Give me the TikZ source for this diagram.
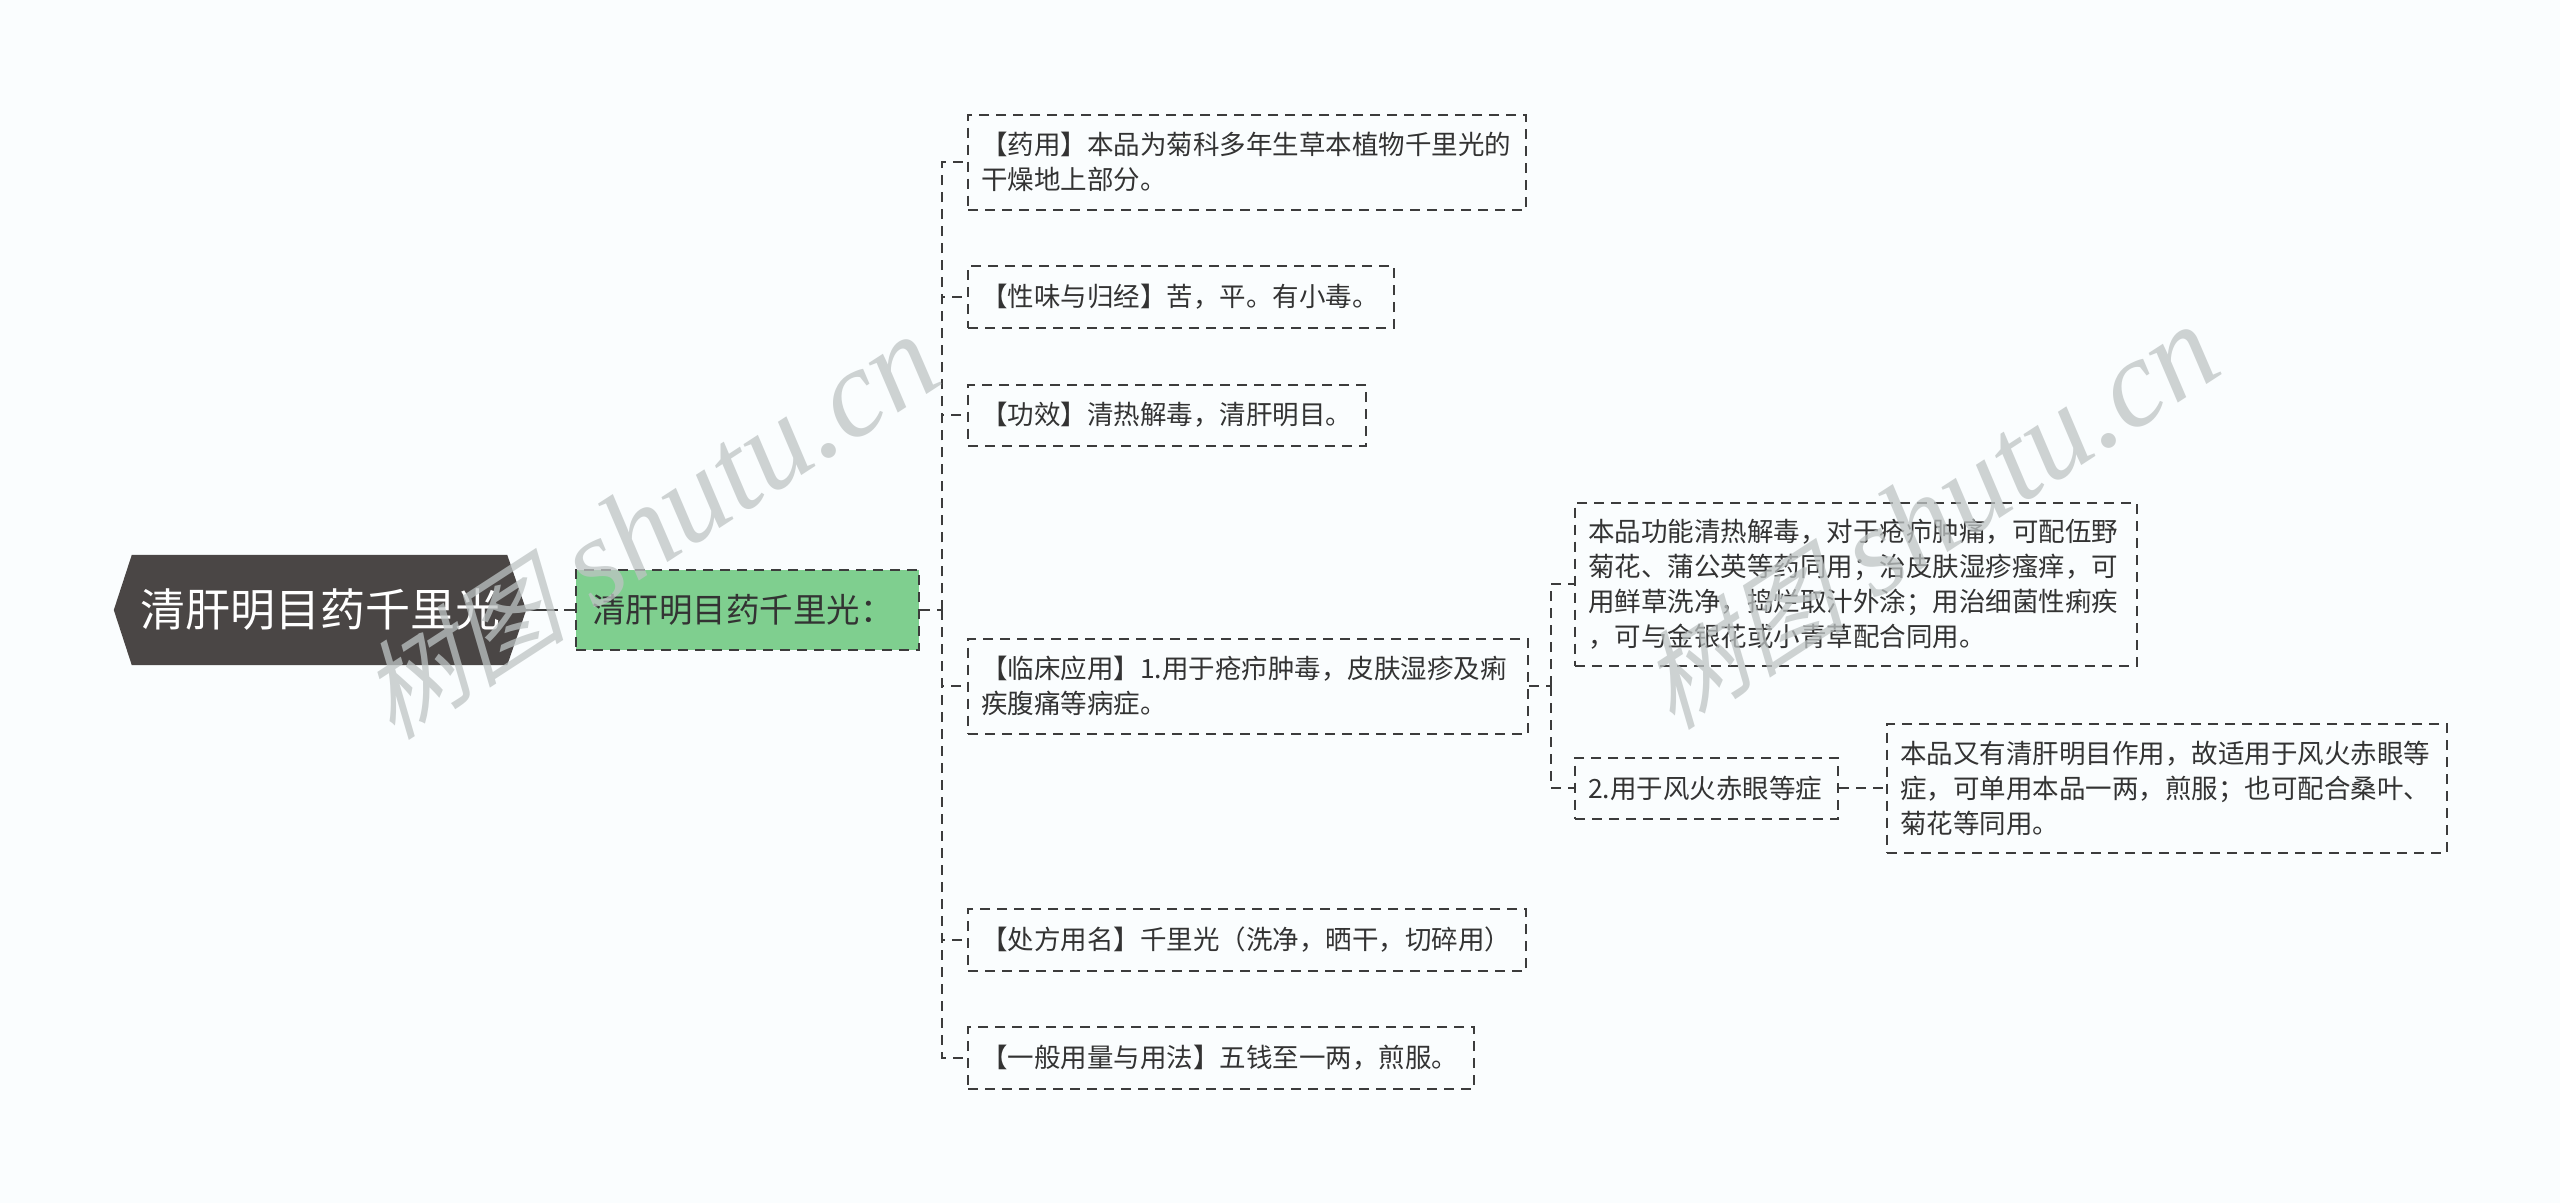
\documentclass[tikz,border=0pt]{standalone}
\usepackage{fontspec}
\setmainfont{Noto Sans CJK SC}
\newfontfamily\wmcjk[FakeSlant=0.3]{Noto Sans CJK SC}
\newfontfamily\wmlat{Liberation Serif}
\definecolor{bgc}{RGB}{250,253,254}
\definecolor{rootc}{RGB}{74,70,69}
\definecolor{greenc}{RGB}{127,207,143}
\definecolor{txtc}{RGB}{51,51,51}
\definecolor{linec}{RGB}{60,60,60}
\definecolor{wmc}{RGB}{190,196,196}
\tikzset{
  conn/.style={draw=linec, line width=2pt, dash pattern=on 10pt off 7pt},
  leaf/.style={draw=linec, line width=2pt, dash pattern=on 10pt off 7pt,
    anchor=west, align=left, inner xsep=13pt, inner ysep=0pt, text=txtc,
    font=\fontsize{26.5}{35}\selectfont},
  wm/.style={text=wmc, opacity=0.75, rotate=33}
}
\begin{document}
\begin{tikzpicture}[x=1pt,y=-1pt]
\fill[bgc] (0,0) rectangle (2560,1203);
\useasboundingbox (0,0) rectangle (2560,1203);

% root
\node[minimum width=412pt, minimum height=110pt, inner sep=0pt] (root) at (320,610) {};
\fill[rootc] (root.west) -- ([xshift=18pt]root.north west) -- ([xshift=-19pt]root.north east)
  -- (root.east) -- ([xshift=-19pt]root.south east) -- ([xshift=18pt]root.south west) -- cycle;
\node[text=white, font=\fontsize{45}{54}\selectfont] (roottxt) at (root.center) {清肝明目药千里光};

% level 1
\node[fill=greenc, draw=linec, line width=2pt, dash pattern=on 10pt off 7pt,
  anchor=west, minimum height=80pt, text width=311pt, inner xsep=16pt, inner ysep=0pt,
  align=left, text=txtc, font=\fontsize{33.5}{40}\selectfont] (green) at (575,610) {清肝明目药千里光：};

% children
\node[leaf, text width=532pt, minimum height=95pt] (c1) at (967,162)
  {【药用】本品为菊科多年生草本植物千里光的\\干燥地上部分。};
\node[leaf, text width=400pt, minimum height=62pt] (c2) at (967,297)
  {【性味与归经】苦，平。有小毒。};
\node[leaf, text width=372pt, minimum height=61pt] (c3) at (967,415)
  {【功效】清热解毒，清肝明目。};
\node[leaf, text width=534pt, minimum height=95pt] (c4) at (967,686)
  {【临床应用】1.用于疮疖肿毒，皮肤湿疹及痢\\疾腹痛等病症。};
\node[leaf, text width=532pt, minimum height=62pt] (c5) at (967,940)
  {【处方用名】千里光（洗净，晒干，切碎用）};
\node[leaf, text width=480pt, minimum height=62pt] (c6) at (967,1058)
  {【一般用量与用法】五钱至一两，煎服。};

% grandchildren
\node[leaf, text width=536pt, minimum height=163pt] (sa) at (1574,584)
  {本品功能清热解毒，对于疮疖肿痛，可配伍野\\菊花、蒲公英等药同用；治皮肤湿疹瘙痒，可\\用鲜草洗净，捣烂取汁外涂；用治细菌性痢疾\\，可与金银花或小青草配合同用。};
\node[leaf, text width=237pt, minimum height=61pt] (sb) at (1574,788)
  {2.用于风火赤眼等症};
\node[leaf, text width=534pt, minimum height=129pt] (sc) at (1886,788)
  {本品又有清肝明目作用，故适用于风火赤眼等\\症，可单用本品一两，煎服；也可配合桑叶、\\菊花等同用。};

% connectors
\draw[draw=linec, line width=2.5pt, dash pattern=on 32pt off 6pt] (root.east) -- (green.west);
\coordinate (t1) at (942,610);
\draw[conn] (green.east) -- (t1);
\foreach \c in {c1,c2,c3,c4,c5,c6} { \draw[conn] (t1) |- (\c.west); }
\coordinate (t2) at (1551,686);
\draw[conn] (c4.east) -- (t2);
\draw[conn] (t2) |- (sa.west);
\draw[conn] (t2) |- (sb.west);
\draw[conn] (sb.east) -- (sc.west);

% watermarks
\node[wm] (wm1) at (648,528) {{\wmcjk\fontsize{105}{110}\selectfont 树图}{\wmlat\itshape\fontsize{125}{130}\selectfont\ shutu.cn}};
\node[wm] (wm2) at (1928,518) {{\wmcjk\fontsize{105}{110}\selectfont 树图}{\wmlat\itshape\fontsize{125}{130}\selectfont\ shutu.cn}};
\end{tikzpicture}
\end{document}
